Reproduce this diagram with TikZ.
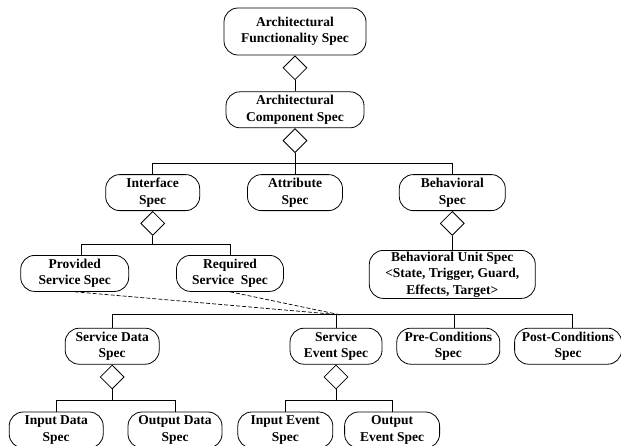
\documentclass[tikz,border=0pt]{standalone}
\usepackage{fontspec}
\setmainfont{Liberation Serif}
\usepackage{tikz}
\usetikzlibrary{positioning,shapes.geometric}

\begin{document}
\begin{tikzpicture}[
    x=1pt, y=1pt,
    spec/.style={rectangle, draw, rounded corners=14pt, line width=0.8pt, align=center, font=\fontsize{13.5}{16.5}\selectfont\bfseries, minimum height=36pt, inner sep=1pt},
    agg/.style={diamond, draw, fill=white, line width=0.8pt, minimum width=24pt, minimum height=24pt, inner sep=0pt, aspect=1},
    link/.style={line width=0.8pt},
    dep/.style={dash pattern=on 4pt off 2pt, line width=0.7pt}
]
\useasboundingbox (0,0) rectangle (621,-445);

% Top: functionality and component
\node[spec, minimum width=142pt, minimum height=47pt] (afs) at (295,-31.5) {Architectural\\Functionality Spec};
\node[agg, below=0pt of afs] (afsagg) {};
\node[spec, minimum width=138pt, below=36pt of afs] (acs) {Architectural\\Component Spec};
\node[agg, below=0pt of acs] (acsagg) {};

% Row 2: interface, attribute, behavior
\node[spec, minimum width=95pt, below=46pt of acs] (attr) {Attribute\\Spec};
\node[spec, minimum width=94pt, left=47pt of attr] (iface) {Interface\\Spec};
\node[spec, minimum width=106pt, right=56pt of attr] (beh) {Behavioral\\Spec};
\node[agg, below=0pt of iface] (ifaceagg) {};
\node[agg, below=0pt of beh] (behagg) {};

% Row 3: services and behavioral unit
\node[spec, minimum width=108pt, below=44pt of iface, xshift=-78pt] (prov) {Provided\\Service Spec};
\node[spec, minimum width=107pt, right=47pt of prov] (req) {Required\\Service\ \ Spec};
\node[spec, minimum width=166pt, minimum height=48pt, below=39pt of beh] (bunit) {Behavioral Unit Spec\\\textless State, Trigger, Guard,\\Effects, Target\textgreater};

% Row 4: service parts
\node[spec, minimum width=92pt, below=36pt of req, xshift=106pt] (sevent) {Service\\Event Spec};
\node[spec, minimum width=94pt, left=130pt of sevent] (sdata) {Service Data\\Spec};
\node[spec, minimum width=103pt, right=14pt of sevent] (pre) {Pre-Conditions\\Spec};
\node[spec, minimum width=107pt, right=14pt of pre] (post) {Post-Conditions\\Spec};
\node[agg, below=0pt of sdata] (sdataagg) {};
\node[agg, below=0pt of sevent] (seventagg) {};
\coordinate (hub) at ([shift={(4pt,13pt)}]sevent.north);

% Row 5: data and events
\node[spec, minimum width=94pt, below=47pt of sdata, xshift=-56pt] (idata) {Input Data\\Spec};
\node[spec, minimum width=94pt, right=24pt of idata] (odata) {Output Data\\Spec};
\node[spec, minimum width=95pt, right=15pt of odata] (ievent) {Input Event\\Spec};
\node[spec, minimum width=95pt, right=11pt of ievent] (oevent) {Output\\Event Spec};

% Connectors
\draw[link] (afsagg.south) -- (acs.north);
\draw[link] (acsagg.south) -- ++(0,-10) -| (iface.north);
\draw[link] (acsagg.south) -- ++(0,-10) -| (beh.north);
\draw[link] (acsagg.south) -- (attr.north);
\draw[link] (ifaceagg.south) -- ++(0,-9) -| ([xshift=7pt]prov.north);
\draw[link] (ifaceagg.south) -- ++(0,-9) -| (req.north);
\draw[link] (behagg.south) -- (bunit.north);

\draw[link] (sdata.north) -- ++(0,13) -| ([xshift=4pt]post.north);
\draw[link] (sevent.north) -- ++(0,13);
\draw[link] ([xshift=6pt]pre.north) -- ++(0,13);
\draw[dep] (prov.south) -- (hub);
\draw[dep] (req.south) -- (hub);

\draw[link] (sdataagg.south) -- ++(0,-11) -| (idata.north);
\draw[link] (sdataagg.south) -- ++(0,-11) -| (odata.north);
\draw[link] (seventagg.south) -- ++(0,-11) -| (ievent.north);
\draw[link] (seventagg.south) -- ++(0,-11) -| (oevent.north);

\end{tikzpicture}
\end{document}
